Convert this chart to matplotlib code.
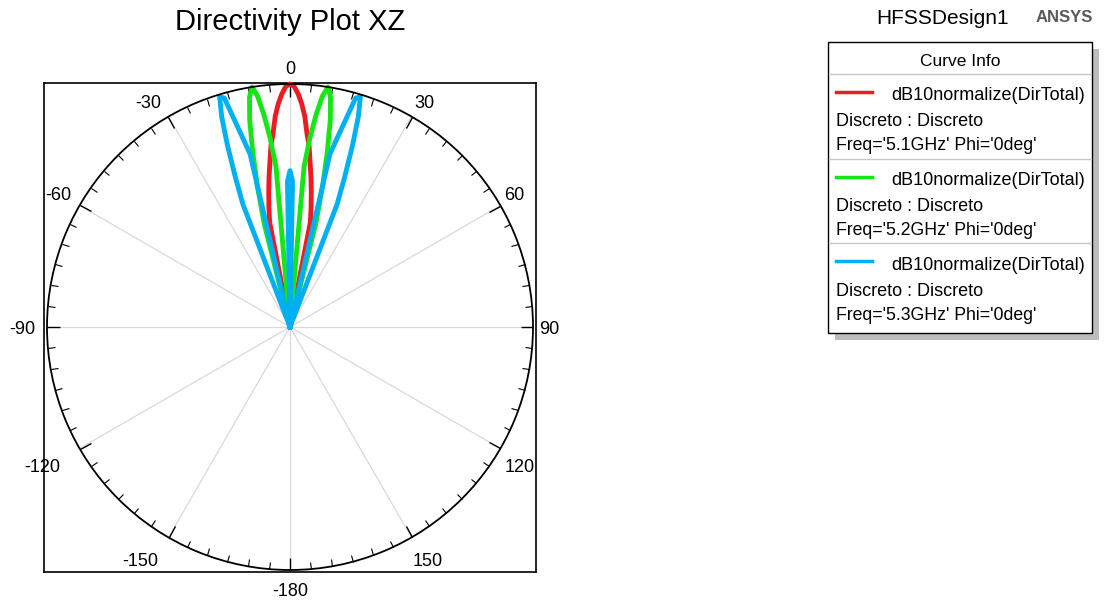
"""
Directivity pattern, XZ cut (phi = 0 deg), normalized dB, three frequencies.
"""

import matplotlib
matplotlib.use("Agg")
import matplotlib.pyplot as plt
import numpy as np
from matplotlib.patches import Rectangle

plt.rcParams.update({
    "font.family": ["Liberation Sans", "DejaVu Sans"],
    "font.size": 13,
})

# ─── Data: normalized directivity (dB) vs theta (deg) ──────────────
R_MIN_DB = -30.0
R_MAX_DB = 0.0

THETA_DEG = list(range(-23, 24))

DIR_51 = [
    -30.0, -30.0, -30.0, -30.0, -30.0, -30.0, -30.0, -30.0, -30.0, -30.0, -30.0,
    -30.0, -16.8, -15.0, -13.2, -11.4, -9.6, -7.5, -6.0, -3.9, -2.4, -1.2, -0.3,
    0.0,
    -0.3, -1.2, -2.4, -3.9, -6.0, -7.5, -9.6, -11.4, -13.2, -15.0, -16.8, -30.0,
    -30.0, -30.0, -30.0, -30.0, -30.0, -30.0, -30.0, -30.0, -30.0, -30.0, -30.0,
]

DIR_52 = [
    -30.0, -30.0, -30.0, -30.0, -30.0, -30.0, -30.0, -30.0, -30.0,
    -16.8, -12.0, -7.8, -3.9, -1.2, 0.0, -1.2, -3.6, -6.6, -10.2,
    -30.0, -30.0, -30.0, -30.0, -30.0, -30.0, -30.0, -30.0, -30.0,
    -10.2, -6.6, -3.6, -1.2, 0.0, -1.2, -3.9, -7.8, -12.0, -16.8,
    -30.0, -30.0, -30.0, -30.0, -30.0, -30.0, -30.0, -30.0, -30.0,
]

DIR_53 = [
    -30.0, -30.0, -13.8, -10.2, -6.3, -2.7, -0.3, -0.6, -3.6, -6.0, -8.1,
    -30.0, -30.0, -30.0, -30.0, -30.0, -30.0, -30.0, -30.0, -30.0, -30.0, -30.0,
    -12.0, -10.7, -12.0,
    -30.0, -30.0, -30.0, -30.0, -30.0, -30.0, -30.0, -30.0, -30.0, -30.0, -30.0,
    -8.1, -6.0, -3.6, -0.6, -0.3, -2.7, -6.3, -10.2, -13.8, -30.0, -30.0,
]

CURVES = [
    ("Freq='5.1GHz' Phi='0deg'", DIR_51, "#ed1c24"),
    ("Freq='5.2GHz' Phi='0deg'", DIR_52, "#16e616"),
    ("Freq='5.3GHz' Phi='0deg'", DIR_53, "#00b0f0"),
]

TICK_ANGLES = list(range(0, 360, 30))
TICK_LABELS = ["0", "30", "60", "90", "120", "150",
               "-180", "-150", "-120", "-90", "-60", "-30"]
# label anchor points (figure pixels, from top-left)
TICK_LABEL_XY = [(290, 70), (424, 103), (514, 196), (549, 330), (520, 468),
                 (428, 562), (290, 592), (140, 562), (42, 468), (22, 330),
                 (58, 196), (148, 103)]

W, H = 1107, 603
fig = plt.figure(figsize=(W / 100, H / 100), dpi=100)
fig.patch.set_facecolor("white")

# square frame around the polar plot
frame = fig.add_axes([44 / W, (H - 572) / H, 492 / W, 489 / H])
frame.set_xticks([])
frame.set_yticks([])
for sp in frame.spines.values():
    sp.set_linewidth(1.2)
    sp.set_color("black")

R_PX = 243
CX, CY = 290, 327
ax = fig.add_axes([(CX - R_PX) / W, (H - CY - R_PX) / H, 2 * R_PX / W, 2 * R_PX / H],
                  projection="polar")
ax.set_facecolor("none")
ax.set_theta_zero_location("N")
ax.set_theta_direction(-1)
ax.set_rlim(R_MIN_DB, R_MAX_DB)
ax.set_yticks([])

for label, vals, color in CURVES:
    ax.plot(np.deg2rad(THETA_DEG), vals, color=color, linewidth=3.5,
            solid_joinstyle="round", clip_on=False)

# tick2 sits on the outer circle, tick1 at the centre (switched off)
ax.set_thetagrids(TICK_ANGLES, [""] * len(TICK_ANGLES))
ax.set_xticks(np.deg2rad(np.arange(0, 360, 5)), minor=True)
ax.tick_params(axis="x", which="both", top=True, bottom=False,
               labeltop=False, labelbottom=False, color="black")
ax.tick_params(axis="x", which="major", direction="in", length=9, width=1.0)
ax.tick_params(axis="x", which="minor", direction="in", length=5, width=0.8)
ax.xaxis.grid(True, color="#d9d9d9", linewidth=0.9)
ax.spines["polar"].set_color("black")
ax.spines["polar"].set_linewidth(1.3)

# titles, angle labels and curve info box, laid out in pixel coordinates
ov = fig.add_axes([0, 0, 1, 1])
ov.set_xlim(0, W)
ov.set_ylim(H, 0)
ov.axis("off")
ov.set_facecolor("none")

for txt, (x, y) in zip(TICK_LABELS, TICK_LABEL_XY):
    ov.text(x, y, txt, ha="center", va="center", fontsize=13)

ov.text(290, 22, "Directivity Plot XZ", ha="center", va="center", fontsize=21)
ov.text(943, 18, "HFSSDesign1", ha="center", va="center", fontsize=15)
ov.text(1064, 17, "ANSYS", ha="center", va="center", fontsize=12,
        fontweight="bold", color="#5a5a5a")

box_x0, box_y0, box_w, box_h = 828, 42, 264, 291
ov.add_patch(Rectangle((box_x0 + 7, box_y0 + 7), box_w, box_h,
                       facecolor="#bdbdbd", edgecolor="none"))
ov.add_patch(Rectangle((box_x0, box_y0), box_w, box_h,
                       facecolor="white", edgecolor="black", linewidth=1.0))
ov.text(box_x0 + box_w / 2, 61, "Curve Info", ha="center", va="center",
        fontsize=12.5)

row_h = 84.5
for i, (label, vals, color) in enumerate(CURVES):
    top = 76 + i * row_h
    ov.plot([box_x0 + 1, box_x0 + box_w - 1], [top - 2, top - 2],
            color="#c8c8c8", linewidth=1.0)
    ov.plot([836, 872], [top + 16, top + 16], color=color, linewidth=2.5)
    ov.text(1085, top + 20, "dB10normalize(DirTotal)", ha="right", va="center")
    ov.text(836, top + 46, "Discreto : Discreto", ha="left", va="center")
    ov.text(836, top + 70, label, ha="left", va="center", fontsize=12.7)

fig.savefig("out.png", dpi=100, facecolor="white")
